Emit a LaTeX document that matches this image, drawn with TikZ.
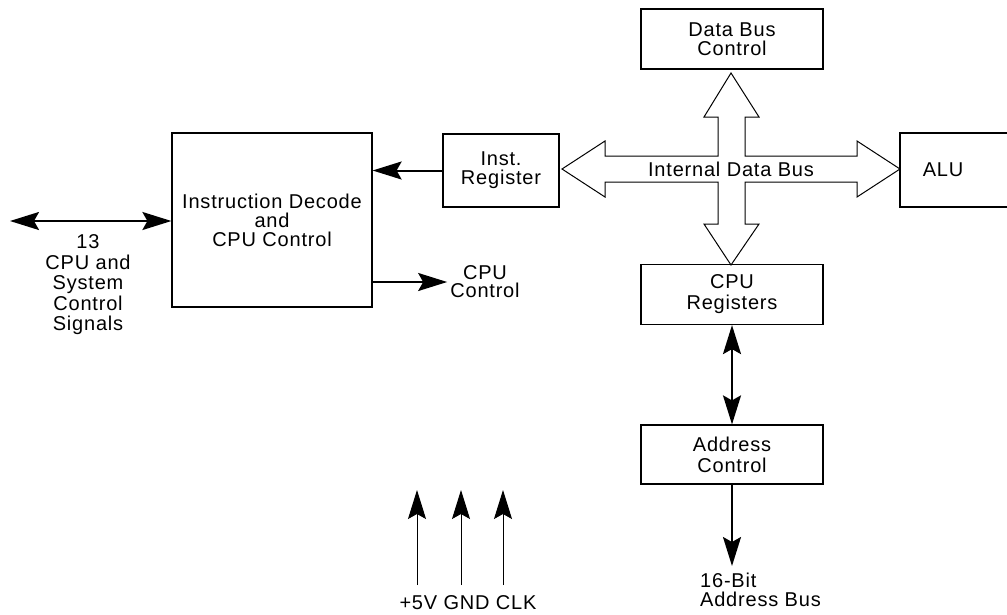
\documentclass[tikz,border=0pt]{standalone}
\usepackage{fontspec}
\setmainfont{Liberation Sans}[LetterSpace=4]
\usetikzlibrary{arrows.meta}
\begin{document}
\begin{tikzpicture}[x=1pt,y=-1pt,
  blk/.style={draw,line width=1.2pt,align=center,inner sep=0pt,font=\fontsize{20}{21}\selectfont},
  lbl/.style={align=center,inner sep=2pt,font=\fontsize{20}{20.5}\selectfont},
  tip/.tip={Stealth[length=29pt,width=18pt,inset=5pt]},
  bus/.style={line width=2pt,-tip},
  busboth/.style={line width=2pt,tip-tip},
  pin/.style={line width=1pt,-tip}]
\useasboundingbox (0,0) rectangle (1007,614);
% boxes
\node[blk,minimum width=182pt,minimum height=60pt,font=\fontsize{20}{19.5}\selectfont] (dbctl) at (732,39) {Data Bus\\Control};
\node[blk,minimum width=116pt,minimum height=73pt,font=\fontsize{20}{19}\selectfont] (instreg) at (501,170.5) {Inst.\\Register};
\node[blk,minimum width=200pt,minimum height=174pt,font=\fontsize{20}{19}\selectfont] (decode) at (272,220) {Instruction Decode\\and\\CPU Control};
\node[blk,minimum width=182pt,minimum height=60pt] (cpuregs) at (732,294.5) {CPU\\Registers};
\node[blk,minimum width=182pt,minimum height=59pt] (addrctl) at (732,454.5) {Address\\Control};
\node[lbl] (alu) at (943,170) {ALU};
\draw[line width=1.2pt] (1015,133) -| (900,207) -- (1015,207);
% internal data bus
\draw[line width=1pt] (562,169) -- (605,141) -- (605,156) -- (718,156) -- (718,117) -- (704,117)
  -- (731,73) -- (759,117) -- (745,117) -- (745,156) -- (857,156) -- (857,141) -- (900,169)
  -- (857,197) -- (857,182) -- (745,182) -- (745,224) -- (759,224) -- (731,265) -- (704,224)
  -- (718,224) -- (718,182) -- (605,182) -- (605,197) -- cycle;
\node[lbl] (idb) at (731,169) {Internal Data Bus};
% labels
\node[lbl] (sig) at (88,285) {13\\CPU and\\System\\Control\\Signals};
\node[lbl,font=\fontsize{20}{18}\selectfont] (cpuctl) at (485,282) {CPU\\Control};
\node[lbl] (pins) at (468,603) {+5V GND CLK};
\node[lbl,anchor=north west,align=left,inner sep=0pt,font=\fontsize{20}{19}\selectfont] (abus) at (700,573) {16-Bit\\Address Bus};
\coordinate (sigend) at (10,221);
\coordinate (abusend) at (732,566);
\coordinate (vccfoot) at (417,585);
\coordinate (gndfoot) at (461,585);
\coordinate (clkfoot) at (503,585);
\coordinate (vcctop) at (417,490);
\coordinate (gndtop) at (461,490);
\coordinate (clktop) at (503,490);
% connectors
\draw[busboth] (sigend) -- (decode.west |- sigend);
\draw[bus] (instreg.west) -- (decode.east |- instreg.west);
\draw[bus] (decode.east |- cpuctl) -- ([xshift=-1pt]cpuctl.west);
\draw[busboth] (cpuregs.south) -- (addrctl.north);
\draw[bus] (addrctl.south) -- (abusend);
\draw[pin] (vccfoot) -- (vcctop);
\draw[pin] (gndfoot) -- (gndtop);
\draw[pin] (clkfoot) -- (clktop);
\end{tikzpicture}
\end{document}
